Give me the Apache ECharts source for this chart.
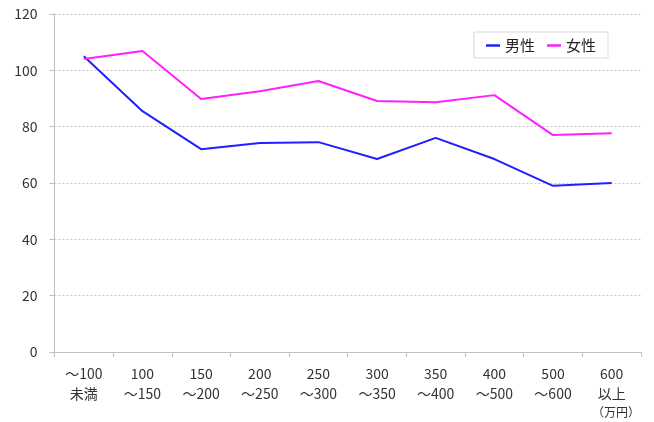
<!DOCTYPE html>
<html>
<head>
<meta charset="utf-8">
<script src="https://cdn.jsdelivr.net/npm/echarts@6/dist/echarts.min.js"></script>
<style>
html,body{margin:0;padding:0;background:#fff;}
#chart{width:654px;height:422px;}
</style>
</head>
<body>
<div id="chart"></div>
<script>
const categories = ['～100\n未満','100\n～150','150\n～200','200\n～250','250\n～300','300\n～350','350\n～400','400\n～500','500\n～600','600\n以上'];
const male = [105, 85.5, 72, 74.2, 74.5, 68.5, 76, 68.5, 59, 60];
const female = [104, 106.9, 89.8, 92.6, 96.2, 89.1, 88.7, 91.2, 77, 77.7];
const yTicks = {min: 0, max: 120, interval: 20};
const unitLabel = '（万円）';

const FONT = '"Noto Sans CJK JP", "Noto Sans", sans-serif';
const chart = echarts.init(document.getElementById('chart'));
chart.setOption({
  animation: false,
  textStyle: {fontFamily: FONT},
  grid: {left: 54.5, right: 13, top: 14, bottom: 70},
  legend: {
    top: 32, right: 46,
    width: 134, height: 27,
    padding: [6, 12, 5, 12],
    borderColor: '#d9d9d9', borderWidth: 1,
    icon: 'rect', itemWidth: 14, itemHeight: 2.5, itemGap: 12,
    textStyle: {fontSize: 15, color: '#222', fontFamily: FONT},
    data: ['男性', '女性']
  },
  xAxis: {
    type: 'category',
    data: categories,
    boundaryGap: true,
    axisLine: {lineStyle: {color: '#bfbfbf', width: 1}},
    axisTick: {show: true, length: 5, lineStyle: {color: '#bfbfbf'}},
    axisLabel: {fontSize: 14, color: '#333', lineHeight: 20, margin: 12, interval: 0, fontFamily: FONT}
  },
  yAxis: {
    type: 'value',
    min: yTicks.min, max: yTicks.max, interval: yTicks.interval,
    axisLine: {show: true, lineStyle: {color: '#bfbfbf', width: 1}},
    axisTick: {show: true, length: 5, lineStyle: {color: '#bfbfbf'}},
    axisLabel: {fontSize: 14, color: '#333', margin: 17, fontFamily: FONT},
    splitLine: {lineStyle: {color: '#c8c8c8', type: [2, 2], width: 1}}
  },
  series: [
    {name: '男性', type: 'line', data: male, symbol: 'none', lineStyle: {color: '#1f1fff', width: 2}, itemStyle: {color: '#1f1fff'}},
    {name: '女性', type: 'line', data: female, symbol: 'none', lineStyle: {color: '#ff1fff', width: 2}, itemStyle: {color: '#ff1fff'}}
  ],
  graphic: [{
    type: 'text', right: 14, top: 406,
    style: {text: unitLabel, fontSize: 12, fill: '#333', fontFamily: FONT}
  }]
});
</script>
</body>
</html>
